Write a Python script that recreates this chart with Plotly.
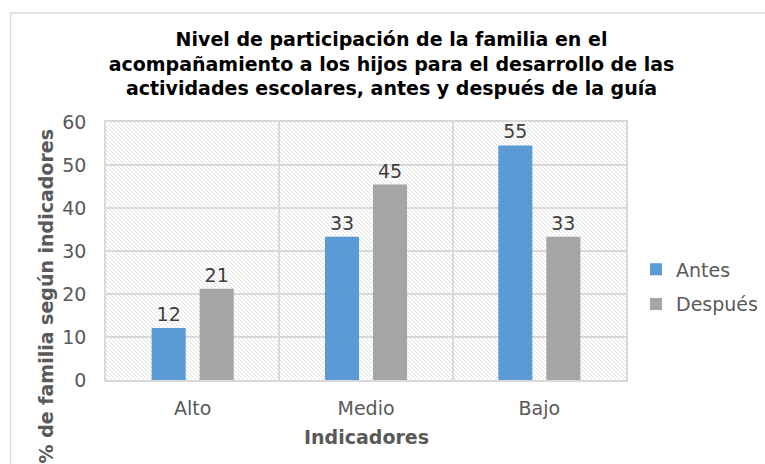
import base64
import plotly.graph_objects as go

categories = ["Alto", "Medio", "Bajo"]
antes = [12.12, 33.33, 54.55]
despues = [21.21, 45.45, 33.33]
series_names = ["Antes", "Después"]
y_ticks = [0, 10, 20, 30, 40, 50, 60]

title_text = ("Nivel de participación de la familia en el<br>"
              "acompañamiento a los hijos para el desarrollo de las<br>"
              "actividades escolares, antes y después de la guía")
x_title = "Indicadores"
y_title = "% de familia según indicadores"

FONT = "DejaVu Sans"
W, H = 765, 464
L, R, T, B = 106, 139, 122, 84
pw, ph = W - L - R, H - T - B


def px_x(x):
    return (x - L) / pw


def px_y(y):
    return (H - B - y) / ph


svg = (
    f"<svg xmlns='http://www.w3.org/2000/svg' width='{pw}' height='{ph}'>"
    "<defs><pattern id='p' width='4' height='4' patternUnits='userSpaceOnUse'>"
    "<path d='M-1,-1 L5,5 M-1,3 L1,5 M3,-1 L5,1' stroke='#e1e1e1' stroke-width='1'/>"
    "</pattern></defs><rect width='100%' height='100%' fill='white'/>"
    "<rect width='100%' height='100%' fill='url(#p)'/></svg>"
)
svg_uri = "data:image/svg+xml;base64," + base64.b64encode(svg.encode()).decode()

fig = go.Figure()
fig.add_trace(go.Bar(
    x=categories, y=antes, name=series_names[0], legendgroup="a",
    marker=dict(color="#5B9BD5", line=dict(width=0)),
    text=antes, texttemplate="%{y:.0f}", textposition="outside",
    textfont=dict(family=FONT, size=19, color="#404040"), cliponaxis=False,
))
fig.add_trace(go.Bar(
    x=categories, y=despues, name=series_names[1], legendgroup="b",
    marker=dict(color="#A5A5A5", line=dict(width=0)),
    text=despues, texttemplate="%{y:.0f}", textposition="outside",
    textfont=dict(family=FONT, size=19, color="#404040"), cliponaxis=False,
))

fig.update_layout(
    width=W, height=H,
    margin=dict(l=L, r=R, t=T, b=B, autoexpand=False),
    paper_bgcolor="white", plot_bgcolor="rgba(0,0,0,0)",
    barmode="group", bargap=0.446, bargroupgap=0.29,
    title=dict(text=title_text, x=391.5 / W, xanchor="center",
               y=1 - 46 / H, yanchor="middle",
               font=dict(family=FONT, size=19, color="#000000", weight="bold")),
    font=dict(family=FONT, size=19, color="#595959"),
    showlegend=True,
    legend=dict(x=px_x(636), y=px_y(287), xanchor="left", yanchor="middle",
                font=dict(family=FONT, size=19, color="#595959"),
                itemwidth=30, traceorder="grouped", tracegroupgap=7,
                bgcolor="rgba(0,0,0,0)"),
    images=[dict(source=svg_uri, xref="paper", yref="paper", x=0, y=1,
                 sizex=1, sizey=1, sizing="stretch", layer="below")],
    shapes=[dict(type="rect", xref="paper", yref="paper",
                 x0=px_x(10.5), x1=px_x(800), y0=px_y(520), y1=px_y(13),
                 line=dict(color="#d9d9d9", width=1.5), fillcolor="rgba(0,0,0,0)",
                 layer="below")],
    annotations=[
        dict(text=x_title, xref="paper", yref="paper", x=0.5, y=px_y(437),
             xanchor="center", yanchor="middle", showarrow=False,
             font=dict(family=FONT, size=19, color="#595959", weight="bold")),
        dict(text=y_title, xref="paper", yref="paper", x=px_x(45), y=px_y(127),
             xanchor="center", yanchor="top", textangle=-90, showarrow=False,
             font=dict(family=FONT, size=19, color="#595959", weight="bold")),
    ],
)

fig.update_xaxes(
    type="category", tickson="boundaries", showgrid=True,
    gridcolor="#d9d9d9", gridwidth=1.5,
    showline=True, linecolor="#d9d9d9", linewidth=1.5, mirror=True,
    ticks="", ticklabelstandoff=10,
    tickfont=dict(family=FONT, size=19, color="#595959"),
)
fig.update_yaxes(
    range=[0, 60], tickvals=y_ticks, showgrid=True,
    gridcolor="#d9d9d9", gridwidth=1.5, zeroline=False,
    showline=True, linecolor="#d9d9d9", linewidth=1.5, mirror=True,
    ticks="outside", ticklen=14, tickcolor="rgba(0,0,0,0)",
    tickfont=dict(family=FONT, size=19, color="#595959"),
)

fig.write_html("out.html", config={"displayModeBar": False},
               post_script="document.body.style.margin='0';")
